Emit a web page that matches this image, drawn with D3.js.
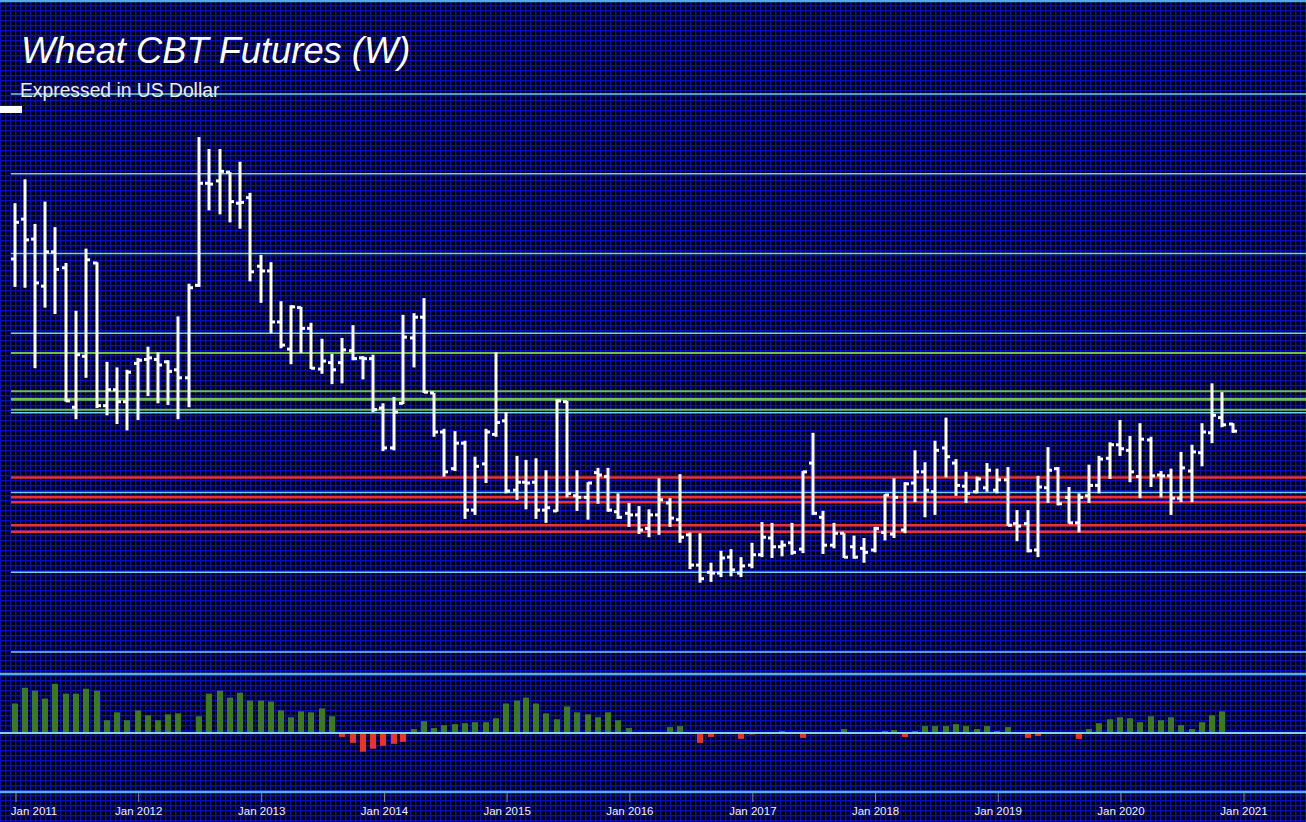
<!DOCTYPE html>
<html>
<head>
<meta charset="utf-8">
<script src="https://cdn.jsdelivr.net/npm/d3@7"></script>
<style>
  body { margin: 0; background: #000; }
  svg { display: block; }
</style>
</head>
<body>
<svg id="chart"></svg>
<script>
// monthly bars, Jan 2011 .. Dec 2020 (US$ per bushel)
const months = d3.timeMonths(new Date(2011, 0, 1), new Date(2021, 0, 1));

const open = [
  7.93, 8.43, 8.18, 7.59, 8.02, 7.82, 6.07, 6.71, 7.88, 6.09, 6.29, 6.14,
  6.62, 6.67, 6.67, 6.64, 6.54, 6.44, 7.60, 8.88, 8.91, 9.02, 8.63, 8.70,
  7.84, 7.78, 7.14, 6.80, 7.32, 7.06, 6.55, 6.63, 6.63, 6.78, 6.69, 6.68,
  6.06, 5.56, 6.12, 6.94, 7.20, 6.25, 5.76, 5.30, 5.62, 4.78, 5.36, 5.73,
  5.90, 5.03, 5.13, 5.13, 4.78, 4.77, 6.14, 4.96, 4.94, 5.25, 5.20, 4.76,
  4.74, 4.72, 4.55, 4.72, 4.87, 4.66, 4.47, 4.09, 4.00, 3.99, 4.19, 3.99,
  4.09, 4.22, 4.43, 4.32, 4.37, 4.29, 5.37, 4.69, 4.34, 4.49, 4.32, 4.30,
  4.28, 4.50, 4.48, 4.53, 5.12, 5.26, 5.01, 5.56, 5.37, 5.08, 5.01, 5.06,
  5.03, 5.16, 4.61, 4.61, 4.28, 5.06, 5.30, 4.94, 4.62, 4.96, 5.09, 5.43,
  5.60, 5.53, 5.20, 5.66, 5.22, 5.21, 4.93, 5.27, 5.50, 5.75, 5.94, 5.86
];
const high = [
  8.63, 8.93, 8.37, 8.65, 8.33, 7.88, 7.28, 8.06, 7.89, 6.64, 6.57, 6.54,
  6.69, 6.83, 6.76, 6.66, 7.21, 7.62, 9.46, 9.31, 9.31, 9.02, 9.15, 8.76,
  7.98, 7.89, 7.40, 7.35, 7.33, 7.13, 6.93, 6.74, 6.94, 7.10, 6.71, 6.73,
  6.12, 6.20, 7.23, 7.25, 7.44, 6.25, 5.80, 5.77, 5.65, 5.45, 5.80, 6.76,
  6.01, 5.46, 5.41, 5.43, 5.28, 6.17, 6.15, 5.28, 5.13, 5.31, 5.31, 4.99,
  4.87, 4.83, 4.79, 5.18, 4.93, 5.23, 4.50, 4.49, 4.12, 4.27, 4.29, 4.19,
  4.37, 4.63, 4.62, 4.40, 4.62, 5.27, 5.75, 4.77, 4.62, 4.49, 4.46, 4.43,
  4.57, 4.98, 5.18, 5.13, 5.53, 5.38, 5.65, 5.94, 5.42, 5.26, 5.20, 5.37,
  5.30, 5.32, 4.78, 4.78, 5.21, 5.57, 5.32, 5.07, 4.99, 5.35, 5.46, 5.63,
  5.91, 5.71, 5.87, 5.70, 5.27, 5.30, 5.51, 5.60, 5.87, 6.37, 6.26, 5.87
];
const low = [
  7.58, 7.57, 6.56, 7.32, 7.24, 6.14, 5.92, 6.44, 6.06, 5.97, 5.86, 5.78,
  5.91, 6.21, 6.12, 6.10, 5.92, 6.07, 7.58, 8.54, 8.49, 8.39, 8.31, 7.65,
  7.38, 7.00, 6.81, 6.61, 6.75, 6.55, 6.49, 6.36, 6.37, 6.66, 6.42, 6.01,
  5.52, 5.53, 6.11, 6.57, 6.25, 5.70, 5.20, 5.27, 4.67, 4.72, 5.12, 5.70,
  4.99, 4.91, 4.79, 4.67, 4.62, 4.76, 4.94, 4.77, 4.66, 4.86, 4.76, 4.67,
  4.57, 4.48, 4.44, 4.47, 4.57, 4.37, 4.04, 3.87, 3.88, 3.94, 3.95, 3.94,
  4.05, 4.19, 4.18, 4.20, 4.22, 4.24, 4.72, 4.23, 4.30, 4.18, 4.17, 4.12,
  4.25, 4.40, 4.43, 4.49, 4.88, 4.69, 4.72, 5.19, 4.96, 4.87, 4.99, 5.01,
  4.99, 4.58, 4.39, 4.25, 4.19, 4.87, 4.84, 4.61, 4.50, 4.87, 4.99, 5.17,
  5.46, 5.13, 4.93, 5.07, 4.94, 4.72, 4.88, 4.88, 5.33, 5.62, 5.82, 5.75
];
const close = [
  8.39, 8.17, 7.63, 8.02, 7.80, 6.15, 6.73, 7.92, 6.09, 6.29, 6.14, 6.51,
  6.66, 6.69, 6.60, 6.52, 6.44, 7.57, 8.88, 8.87, 9.03, 8.65, 8.64, 7.77,
  7.78, 7.14, 6.85, 7.33, 7.06, 6.56, 6.65, 6.54, 6.79, 6.68, 6.68, 6.04,
  5.56, 6.01, 6.95, 7.20, 6.26, 5.76, 5.26, 5.62, 4.78, 5.33, 5.76, 5.88,
  5.02, 5.13, 5.12, 4.78, 4.81, 6.15, 4.99, 4.94, 5.12, 5.22, 4.78, 4.69,
  4.72, 4.53, 4.72, 4.91, 4.68, 4.44, 4.09, 3.92, 3.99, 4.18, 4.03, 4.08,
  4.22, 4.44, 4.32, 4.34, 4.25, 5.26, 4.74, 4.34, 4.49, 4.19, 4.19, 4.25,
  4.55, 4.97, 4.94, 5.11, 5.26, 5.03, 5.53, 5.45, 5.09, 4.99, 5.17, 5.28,
  5.16, 4.59, 4.58, 4.27, 5.07, 5.28, 4.86, 4.62, 4.94, 5.09, 5.42, 5.60,
  5.55, 5.26, 5.67, 5.21, 5.21, 4.93, 5.31, 5.51, 5.76, 5.97, 5.85, 5.77
];

// lower panel oscillator (last month not yet printed)
const momentum = [
  30, 46, 43, 35, 50, 40, 40, 45, 43, 13, 21, 13,
  23, 18, 13, 19, 20, 1, 17, 40, 43, 36, 41, 33,
  33, 32, 23, 16, 22, 21, 25, 17, -4, -10, -19, -16,
  -13, -11, -9, 4, 12, 5, 8, 9, 10, 11, 11, 15,
  30, 33, 36, 30, 20, 14, 27, 21, 19, 16, 21, 13,
  5, 0, 0, 0, 6, 7, 0, -10, -4, 0, 0, -6,
  -1, 1, 1, 2, 1, -5, 1, 0, 1, 4, 1, 1,
  1, 2, 3, -4, 2, 7, 7, 7, 9, 7, 4, 7,
  2, 6, 1, -5, -3, 0, 0.5, 1, -6, 4, 10, 14,
  16, 15, 11, 17, 13, 16, 8, 4, 11, 18, 22, null
];

const priceLevels = [10, 9, 8, 7, 6, 5, 4, 3];
const greenLevels = [6.75, 6.27, 6.17, 6.04];
const greenWidths = [2, 2, 3, 2];
const redLevels = [5.19, 4.94, 4.88, 4.59, 4.51];
const tickYears = d3.range(2011, 2022);

const W = 1306, H = 822;
const svg = d3.select("#chart").attr("width", W).attr("height", H);

const x = d3.scaleTime()
  .domain([new Date(2011, 0, 1), new Date(2021, 0, 1)])
  .range([16, 1244]);
const y = d3.scaleLinear().domain([3, 10]).range([652, 94]);
const yh = d3.scaleLinear().domain([-60, 60]).range([792, 674]);

// background grid
const defs = svg.append("defs");
const p = defs.append("pattern")
  .attr("id", "grid").attr("patternUnits", "userSpaceOnUse")
  .attr("width", 5).attr("height", 5);
p.append("rect").attr("width", 5).attr("height", 5).attr("fill", "#000");
p.append("rect").attr("width", 5).attr("height", 1.4).attr("fill", "#0a0fbe");
p.append("rect").attr("width", 1.4).attr("height", 5).attr("fill", "#0a0fbe");
svg.append("rect").attr("width", W).attr("height", H).attr("fill", "url(#grid)");

svg.append("line")
  .attr("x1", 0).attr("x2", W).attr("y1", 1).attr("y2", 1)
  .attr("stroke", "#5aa8ec").attr("stroke-width", 2.5);

// price level lines
svg.append("g").selectAll("line").data(priceLevels).join("line")
  .attr("x1", 11).attr("x2", W)
  .attr("y1", d => y(d)).attr("y2", d => y(d))
  .attr("stroke", "#74cfee").attr("stroke-width", 1.5);

svg.append("g").selectAll("line").data(greenLevels).join("line")
  .attr("x1", 11).attr("x2", W)
  .attr("y1", d => y(d)).attr("y2", d => y(d))
  .attr("stroke", "#6cc043").attr("stroke-width", (d, i) => greenWidths[i]);

svg.append("g").selectAll("line").data(redLevels).join("line")
  .attr("x1", 11).attr("x2", W)
  .attr("y1", d => y(d)).attr("y2", d => y(d))
  .attr("stroke", "#f0302a").attr("stroke-width", 2.5);

// OHLC bars
const bars = svg.append("g").attr("fill", "#fff");
months.forEach((m, i) => {
  const cx = Math.round(x(m)) - 1;
  const top = y(high[i]), bot = y(low[i]);
  bars.append("rect").attr("x", cx - 1.5).attr("y", top)
    .attr("width", 3).attr("height", Math.max(2, bot - top));
  bars.append("rect").attr("x", cx - 4).attr("y", y(open[i]) - 1.5)
    .attr("width", 4).attr("height", 3);
  bars.append("rect").attr("x", cx).attr("y", y(close[i]) - 1.5)
    .attr("width", 4).attr("height", 3);
});

// lower panel
const hist = svg.append("g");
momentum.forEach((v, i) => {
  if (v === null || v === 0) return;
  const cx = Math.round(x(months[i])) - 1;
  hist.append("rect")
    .attr("x", cx - 3).attr("width", 6)
    .attr("y", Math.min(yh(v), yh(0)))
    .attr("height", Math.max(1.5, Math.abs(yh(v) - yh(0))))
    .attr("fill", v > 0 ? "#3b7a1f" : "#ee3322");
});

[60, 0, -60].forEach(v => {
  svg.append("line")
    .attr("x1", 0).attr("x2", W).attr("y1", yh(v)).attr("y2", yh(v))
    .attr("stroke", v === 0 ? "#7fd4f2" : "#5aaaf0")
    .attr("stroke-width", v === 0 ? 1.8 : 2.5);
});

// time axis
const ticks = tickYears.map(yr => new Date(yr, 0, 1));
const ax = svg.append("g");
ax.selectAll("line").data(ticks).join("line")
  .attr("x1", d => x(d)).attr("x2", d => x(d))
  .attr("y1", 793).attr("y2", 802)
  .attr("stroke", "#8a8a8a").attr("stroke-width", 1);
ax.selectAll("text").data(ticks).join("text")
  .attr("x", d => Math.max(x(d), 34))
  .attr("y", 815)
  .attr("text-anchor", "middle")
  .attr("fill", "#f2f2f2")
  .attr("font-family", "Liberation Sans, Arial, sans-serif")
  .attr("font-size", "11.5px")
  .text(d => d3.timeFormat("%b %Y")(d));

// titles
svg.append("text")
  .attr("x", 21).attr("y", 63)
  .attr("fill", "#fff")
  .attr("font-family", "Liberation Sans, Arial, sans-serif")
  .attr("font-style", "italic")
  .attr("font-size", "36.3px")
  .text("Wheat CBT Futures (W)");

svg.append("text")
  .attr("x", 20).attr("y", 97)
  .attr("fill", "#eeeeee")
  .attr("font-family", "Liberation Sans, Arial, sans-serif")
  .attr("font-size", "19.3px")
  .text("Expressed in US Dollar");

svg.append("rect")
  .attr("x", 0).attr("y", 106).attr("width", 22).attr("height", 7)
  .attr("fill", "#fff");
</script>
</body>
</html>
